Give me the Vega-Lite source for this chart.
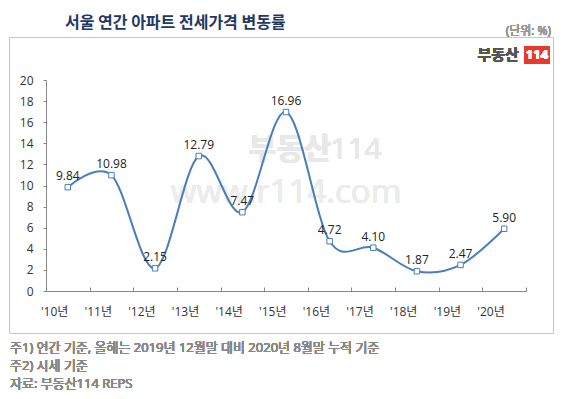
{
  "$schema": "https://vega.github.io/schema/vega-lite/v6.json",
  "width": 544,
  "height": 296,
  "autosize": {"type": "none"},
  "padding": {"left": 9, "top": 37, "right": 10, "bottom": 66},
  "background": "white",
  "config": {
    "view": {"stroke": "#c8c8c8", "strokeWidth": 1},
    "font": "Open Sans, Noto Sans CJK KR",
    "axis": {"labelOverlap": false, "labelFont": "Open Sans, Noto Sans CJK KR"},
    "axisY": {"title": null, "offset": -37, "values": [0, 2, 4, 6, 8, 10, 12, 14, 16, 18, 20], "grid": false, "domainColor": "#888", "tickColor": "#888", "tickSize": 3, "labelFontSize": 12, "labelColor": "#333", "labelPadding": 10, "labelOverlap": false, "labelSeparation": 0}
  },
  "title": {
    "text": "서울 연간 아파트 전세가격 변동률",
    "anchor": "start",
    "dx": 56,
    "offset": -6,
    "fontSize": 16,
    "fontWeight": "bold",
    "color": "#1f3864",
    "font": "Noto Sans CJK KR"
  },
  "data": {
    "values": [
      {"year": "'10년", "rate": 9.84},
      {"year": "'11년", "rate": 10.98},
      {"year": "'12년", "rate": 2.15},
      {"year": "'13년", "rate": 12.79},
      {"year": "'14년", "rate": 7.47},
      {"year": "'15년", "rate": 16.96},
      {"year": "'16년", "rate": 4.72},
      {"year": "'17년", "rate": 4.10},
      {"year": "'18년", "rate": 1.87},
      {"year": "'19년", "rate": 2.47},
      {"year": "'20년", "rate": 5.90}
    ]
  },
  "layer": [
    {
      "mark": {"type": "text", "fontSize": 30, "fontWeight": "bold", "color": "#e8e8e8", "dx": 4, "font": "Noto Sans CJK KR"},
      "encoding": {
        "x": {"datum": "'15년", "type": "nominal", "scale": {"type": "band", "domain": ["'10년", "'11년", "'12년", "'13년", "'14년", "'15년", "'16년", "'17년", "'18년", "'19년", "'20년"], "range": [37, 517], "paddingInner": 0, "paddingOuter": 0}},
        "y": {"datum": 13.4, "type": "quantitative", "axis": {"values": [0, 2, 4, 6, 8, 10, 12, 14, 16, 18, 20], "labelOverlap": false}, "scale": {"domain": [0, 20], "range": [254, 43], "nice": false, "zero": false}},
        "text": {"value": "부동산"}
      }
    },
    {
      "mark": {"type": "text", "fontSize": 30, "color": "#e8e8e8", "dx": 70},
      "encoding": {
        "x": {"datum": "'15년", "type": "nominal", "scale": {"type": "band", "domain": ["'10년", "'11년", "'12년", "'13년", "'14년", "'15년", "'16년", "'17년", "'18년", "'19년", "'20년"], "range": [37, 517], "paddingInner": 0, "paddingOuter": 0}},
        "y": {"datum": 13.4, "type": "quantitative", "axis": {"values": [0, 2, 4, 6, 8, 10, 12, 14, 16, 18, 20], "labelOverlap": false}, "scale": {"domain": [0, 20], "range": [254, 43], "nice": false, "zero": false}},
        "text": {"value": "114"}
      }
    },
    {
      "mark": {"type": "text", "fontSize": 33, "color": "#ececec"},
      "encoding": {
        "x": {"datum": "'15년", "type": "nominal", "scale": {"type": "band", "domain": ["'10년", "'11년", "'12년", "'13년", "'14년", "'15년", "'16년", "'17년", "'18년", "'19년", "'20년"], "range": [37, 517], "paddingInner": 0, "paddingOuter": 0}},
        "y": {"datum": 9.3, "type": "quantitative", "axis": {"values": [0, 2, 4, 6, 8, 10, 12, 14, 16, 18, 20], "labelOverlap": false}, "scale": {"domain": [0, 20], "range": [254, 43], "nice": false, "zero": false}},
        "text": {"value": "www.r114.com"}
      }
    },
    {
      "mark": {"type": "line", "interpolate": "cardinal", "tension": 0, "color": "#4a7ebb", "strokeWidth": 2},
      "encoding": {
        "x": {
          "field": "year", "type": "nominal", "sort": null,
          "scale": {"type": "band", "domain": ["'10년", "'11년", "'12년", "'13년", "'14년", "'15년", "'16년", "'17년", "'18년", "'19년", "'20년"], "range": [37, 517], "paddingInner": 0, "paddingOuter": 0},
          "axis": {
            "title": null, "offset": -42, "tickBand": "extent", "labelAngle": 0,
            "domainColor": "#888", "tickColor": "#888", "tickSize": -4,
            "labelFontSize": 12, "labelColor": "#333", "labelPadding": 24, "labelOverlap": false
          }
        },
        "y": {
          "field": "rate", "type": "quantitative",
          "scale": {"domain": [0, 20], "range": [254, 43], "nice": false, "zero": false},
          "axis": {"values": [0, 2, 4, 6, 8, 10, 12, 14, 16, 18, 20], "labelOverlap": false}
        }
      }
    },
    {
      "mark": {"type": "point", "shape": "square", "filled": true, "fill": "white", "stroke": "#4a7ebb", "strokeWidth": 1, "size": 30, "opacity": 1},
      "encoding": {
        "x": {"field": "year", "type": "nominal", "sort": null, "scale": {"type": "band", "domain": ["'10년", "'11년", "'12년", "'13년", "'14년", "'15년", "'16년", "'17년", "'18년", "'19년", "'20년"], "range": [37, 517], "paddingInner": 0, "paddingOuter": 0}},
        "y": {"field": "rate", "type": "quantitative", "axis": {"values": [0, 2, 4, 6, 8, 10, 12, 14, 16, 18, 20], "labelOverlap": false}, "scale": {"domain": [0, 20], "range": [254, 43], "nice": false, "zero": false}}
      }
    },
    {
      "mark": {"type": "text", "baseline": "bottom", "dy": -4, "fontSize": 12, "color": "#222"},
      "encoding": {
        "x": {"field": "year", "type": "nominal", "sort": null, "scale": {"type": "band", "domain": ["'10년", "'11년", "'12년", "'13년", "'14년", "'15년", "'16년", "'17년", "'18년", "'19년", "'20년"], "range": [37, 517], "paddingInner": 0, "paddingOuter": 0}},
        "y": {"field": "rate", "type": "quantitative", "axis": {"values": [0, 2, 4, 6, 8, 10, 12, 14, 16, 18, 20], "labelOverlap": false}, "scale": {"domain": [0, 20], "range": [254, 43], "nice": false, "zero": false}},
        "text": {"field": "rate", "type": "quantitative", "format": ".2f"}
      }
    },
    {
      "mark": {"type": "text", "align": "right", "dx": 25, "fontSize": 12, "color": "#999"},
      "encoding": {
        "x": {"datum": "'20년", "type": "nominal", "bandPosition": 1, "scale": {"type": "band", "domain": ["'10년", "'11년", "'12년", "'13년", "'14년", "'15년", "'16년", "'17년", "'18년", "'19년", "'20년"], "range": [37, 517], "paddingInner": 0, "paddingOuter": 0}},
        "y": {"datum": 24.6, "type": "quantitative", "axis": {"values": [0, 2, 4, 6, 8, 10, 12, 14, 16, 18, 20], "labelOverlap": false}, "scale": {"domain": [0, 20], "range": [254, 43], "nice": false, "zero": false}},
        "text": {"value": "(단위: %)"}
      }
    },
    {
      "mark": {"type": "text", "align": "center", "dx": -6, "fontSize": 15, "fontWeight": "bold", "color": "#555", "font": "Noto Sans CJK KR"},
      "encoding": {
        "x": {"datum": "'20년", "type": "nominal", "scale": {"type": "band", "domain": ["'10년", "'11년", "'12년", "'13년", "'14년", "'15년", "'16년", "'17년", "'18년", "'19년", "'20년"], "range": [37, 517], "paddingInner": 0, "paddingOuter": 0}},
        "y": {"datum": 22.37, "type": "quantitative", "axis": {"values": [0, 2, 4, 6, 8, 10, 12, 14, 16, 18, 20], "labelOverlap": false}, "scale": {"domain": [0, 20], "range": [254, 43], "nice": false, "zero": false}},
        "text": {"value": "부동산"}
      }
    },
    {
      "mark": {"type": "point", "shape": "M-1,-0.72L1,-0.72L1,0.72L-1,0.72Z", "filled": true, "fill": "#e8392b", "strokeWidth": 0, "size": 625, "opacity": 1, "xOffset": 11},
      "encoding": {
        "x": {"datum": "'20년", "type": "nominal", "bandPosition": 1, "scale": {"type": "band", "domain": ["'10년", "'11년", "'12년", "'13년", "'14년", "'15년", "'16년", "'17년", "'18년", "'19년", "'20년"], "range": [37, 517], "paddingInner": 0, "paddingOuter": 0}},
        "y": {"datum": 22.37, "type": "quantitative", "axis": {"values": [0, 2, 4, 6, 8, 10, 12, 14, 16, 18, 20], "labelOverlap": false}, "scale": {"domain": [0, 20], "range": [254, 43], "nice": false, "zero": false}}
      }
    },
    {
      "mark": {"type": "text", "align": "center", "dx": 11, "fontSize": 13, "fontWeight": "bold", "color": "white"},
      "encoding": {
        "x": {"datum": "'20년", "type": "nominal", "bandPosition": 1, "scale": {"type": "band", "domain": ["'10년", "'11년", "'12년", "'13년", "'14년", "'15년", "'16년", "'17년", "'18년", "'19년", "'20년"], "range": [37, 517], "paddingInner": 0, "paddingOuter": 0}},
        "y": {"datum": 22.37, "type": "quantitative", "axis": {"values": [0, 2, 4, 6, 8, 10, 12, 14, 16, 18, 20], "labelOverlap": false}, "scale": {"domain": [0, 20], "range": [254, 43], "nice": false, "zero": false}},
        "text": {"value": "114"}
      }
    },
    {
      "mark": {"type": "text", "align": "left", "baseline": "middle", "dx": -36, "fontSize": 13, "color": "#888", "lineHeight": 18},
      "encoding": {
        "x": {"datum": "'10년", "type": "nominal", "bandPosition": 0, "scale": {"type": "band", "domain": ["'10년", "'11년", "'12년", "'13년", "'14년", "'15년", "'16년", "'17년", "'18년", "'19년", "'20년"], "range": [37, 517], "paddingInner": 0, "paddingOuter": 0}},
        "y": {"datum": -5.4, "type": "quantitative", "axis": {"values": [0, 2, 4, 6, 8, 10, 12, 14, 16, 18, 20], "labelOverlap": false}, "scale": {"domain": [0, 20], "range": [254, 43], "nice": false, "zero": false}},
        "text": {"value": ["주1) 연간 기준, 올해는 2019년 12월말 대비 2020년 8월말 누적 기준", "주2) 시세 기준", "자료: 부동산114 REPS"]}
      }
    }
  ]
}
